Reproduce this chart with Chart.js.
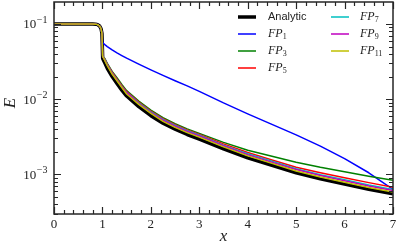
<!DOCTYPE html>
<html lang="en">
<head>
<meta charset="UTF-8">
<title>FP convergence</title>
<script src="https://cdn.jsdelivr.net/npm/chart.js@4.4.1/dist/chart.umd.min.js"></script>
<style>
  body { margin: 0; background: #fff; }
  #wrap { width: 399px; height: 245px; position: relative; }
</style>
</head>
<body>
<div id="wrap"><canvas id="chart"></canvas></div>
<script>
// x positions
const xs = [0, 0.5, 0.8, 0.86, 0.9, 0.94, 0.97, 0.99, 1.005, 1.05, 1.1, 1.2, 1.3, 1.4, 1.5, 1.75,
            2, 2.25, 2.5, 2.75, 3, 3.5, 4, 4.5, 5, 5.5, 6, 6.5, 7];

// all curves share the plateau before x = 1
const plateau = [0.1, 0.1, 0.1, 0.0995, 0.098, 0.094, 0.087, 0.075];

// values from x = 1.005 onward
const analyticTail = [0.0347, 0.0302, 0.0257, 0.0200, 0.0162, 0.0132, 0.0110, 0.00794, 0.00603, 0.00479, 0.00398,
                      0.00339, 0.00295, 0.00219, 0.00166, 0.00132, 0.00105, 0.000871, 0.000741, 0.000631, 0.000550];
const fp1Tail  = [0.0562, 0.0531, 0.0501, 0.0452, 0.0412, 0.0380, 0.0351, 0.0292, 0.0245, 0.0207, 0.0176,
                  0.0150, 0.0127, 0.00891, 0.00638, 0.00462, 0.00335, 0.00237, 0.00162, 0.00105, 0.000631];
const fp3Tail  = [0.0372, 0.0347, 0.0299, 0.0234, 0.0193, 0.0157, 0.0130, 0.00944, 0.00716, 0.00569, 0.00473,
                  0.00403, 0.00351, 0.00266, 0.00209, 0.00174, 0.00145, 0.00124, 0.00108, 0.000944, 0.000832];
const fp5Tail  = [0.0372, 0.0339, 0.0292, 0.0229, 0.0186, 0.0151, 0.0126, 0.00912, 0.00692, 0.00550, 0.00457,
                  0.00389, 0.00339, 0.00254, 0.00195, 0.00155, 0.00124, 0.00105, 0.000902, 0.000776, 0.000676];
const fp7Tail  = [0.0372, 0.0335, 0.0288, 0.0224, 0.0182, 0.0148, 0.0123, 0.00891, 0.00676, 0.00537, 0.00447,
                  0.00380, 0.00331, 0.00245, 0.00188, 0.00150, 0.00119, 0.000989, 0.000851, 0.000724, 0.000631];
const fp9Tail  = [0.0372, 0.0331, 0.0285, 0.0221, 0.0180, 0.0146, 0.0122, 0.00871, 0.00661, 0.00525, 0.00437,
                  0.00372, 0.00324, 0.00240, 0.00182, 0.00145, 0.00116, 0.000966, 0.000822, 0.000700, 0.000610];
const fp11Tail = [0.0372, 0.0324, 0.0279, 0.0216, 0.0176, 0.0143, 0.0117, 0.00851, 0.00646, 0.00507, 0.00422,
                  0.00359, 0.00313, 0.00232, 0.00176, 0.00140, 0.00111, 0.000923, 0.000785, 0.000668, 0.000582];

const xTicks = [0, 1, 2, 3, 4, 5, 6, 7];
const yDecades = [-1, -2, -3];

// series: name, subscript, values, colour, width
const series = [
    ['Analytic', '', analyticTail, '#000000', 3.5],
    ['FP', '1', fp1Tail, '#0000ff', 1.5],
    ['FP', '3', fp3Tail, '#008000', 1.5],
    ['FP', '5', fp5Tail, '#ff0000', 1.5],
    ['FP', '7', fp7Tail, '#00bfbf', 1.5],
    ['FP', '9', fp9Tail, '#bf00bf', 1.5],
    ['FP', '11', fp11Tail, '#bfbf00', 1.5]
];

const datasets = series.map(function (s, i) {
    const ys = plateau.concat(s[2]);
    return {
        label: s[0] + s[1],
        data: xs.map(function (x, k) { return {x: x, y: ys[k]}; }),
        borderColor: s[3],
        borderWidth: s[4],
        borderJoinStyle: 'round',
        pointRadius: 0,
        tension: 0,
        fill: false,
        order: series.length - i
    };
});

const serif = '"Liberation Serif", "DejaVu Serif", serif';
const sans = '"Liberation Sans", "DejaVu Sans", sans-serif';
const axisColor = '#262626';

// frame, inward ticks, labels and legend
const decor = {
    id: 'decor',
    afterDraw(chart) {
        const ctx = chart.ctx;
        const a = chart.chartArea;
        const xs_ = chart.scales.x, ys_ = chart.scales.y;
        ctx.save();
        ctx.strokeStyle = axisColor;
        ctx.lineWidth = 1.5;
        ctx.strokeRect(a.left, a.top, a.right - a.left, a.bottom - a.top);

        ctx.lineWidth = 1.2;
        ctx.beginPath();
        // x ticks, major every 1, minor every 0.2
        for (let i = 0; i <= 35; i++) {
            const v = i / 5;
            const len = (i % 5 === 0) ? 7 : 4;
            const px = Math.round(xs_.getPixelForValue(v)) + 0.5;
            ctx.moveTo(px, a.bottom); ctx.lineTo(px, a.bottom - len);
            ctx.moveTo(px, a.top); ctx.lineTo(px, a.top + len);
        }
        // y ticks, decades plus 2..9
        for (let d = -4; d <= 0; d++) {
            for (let m = 1; m <= 9; m++) {
                const v = m * Math.pow(10, d);
                if (v < ys_.min || v > ys_.max) continue;
                const len = (m === 1) ? 7 : 4;
                const py = Math.round(ys_.getPixelForValue(v)) + 0.5;
                ctx.moveTo(a.left, py); ctx.lineTo(a.left + len, py);
                ctx.moveTo(a.right, py); ctx.lineTo(a.right - len, py);
            }
        }
        ctx.stroke();

        // tick labels
        ctx.fillStyle = '#222';
        ctx.font = '13px ' + serif;
        ctx.textAlign = 'center';
        ctx.textBaseline = 'middle';
        xTicks.forEach(function (t) {
            ctx.fillText(String(t), xs_.getPixelForValue(t), a.bottom + 11);
        });
        yDecades.forEach(function (d) {
            const py = ys_.getPixelForValue(Math.pow(10, d));
            const sup = '\u2212' + Math.abs(d);
            ctx.font = '10px ' + serif;
            const sw = ctx.measureText(sup).width;
            ctx.font = '13px ' + serif;
            const bw = ctx.measureText('10').width;
            const x0 = a.left - 7 - sw - bw;
            ctx.textAlign = 'left';
            ctx.fillText('10', x0, py + 1);
            ctx.font = '10px ' + serif;
            ctx.fillText(sup, x0 + bw + 0.5, py - 4);
        });

        // axis titles
        ctx.font = 'italic 17px ' + serif;
        ctx.textAlign = 'center';
        ctx.fillText('x', (a.left + a.right) / 2, 237);
        ctx.save();
        ctx.translate(11, ys_.getPixelForValue(0.01) + 4);
        ctx.rotate(-Math.PI / 2);
        ctx.fillText('E', 0, 0);
        ctx.restore();

        // legend, two columns
        const cols = [[238, 268], [331, 360]];
        series.forEach(function (s, i) {
            const col = i < 4 ? 0 : 1;
            const row = i < 4 ? i : i - 4;
            const y = 17 + row * 17;
            const hx = cols[col][0], tx = cols[col][1];
            ctx.strokeStyle = s[3];
            ctx.lineWidth = s[4];
            ctx.beginPath();
            ctx.moveTo(hx, y); ctx.lineTo(hx + 18, y);
            ctx.stroke();
            ctx.fillStyle = '#222';
            ctx.textAlign = 'left';
            if (s[1] === '') {
                ctx.font = '11px ' + sans;
                ctx.fillText(s[0], tx, y);
            } else {
                ctx.font = 'italic 12px ' + serif;
                ctx.fillText(s[0], tx, y);
                const w = ctx.measureText(s[0]).width;
                ctx.font = '8px ' + serif;
                ctx.fillText(s[1], tx + w, y + 3);
            }
        });
        ctx.restore();
    }
};

new Chart(document.getElementById('chart'), {
    type: 'line',
    data: { datasets: datasets },
    options: {
        responsive: true,
        maintainAspectRatio: false,
        animation: false,
        layout: { padding: { left: 54, top: 2, right: 6, bottom: 31 } },
        plugins: { legend: { display: false }, tooltip: { enabled: false } },
        scales: {
            x: { type: 'linear', min: 0, max: 7, display: false },
            y: { type: 'logarithmic', min: 2.97e-4, max: 0.196, display: false }
        }
    },
    plugins: [decor]
});
</script>
</body>
</html>
